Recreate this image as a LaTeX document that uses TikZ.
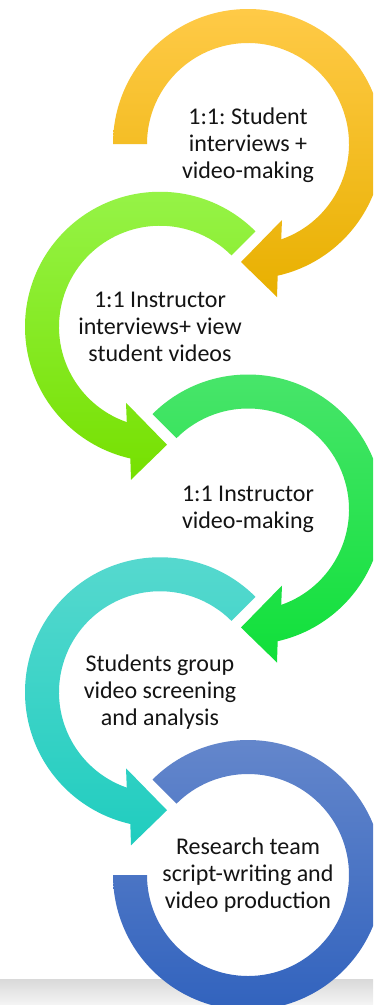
\documentclass[tikz,border=0pt]{standalone}
\usepackage{fontspec}
\setmainfont{Carlito}
\usetikzlibrary{calc}
\frenchspacing
\definecolor{yTop}{HTML}{FFCA47}\definecolor{yMid}{HTML}{FFC216}\definecolor{yBot}{HTML}{E8B000}
\definecolor{gTop}{HTML}{97F44A}\definecolor{gMid}{HTML}{88F224}\definecolor{gBot}{HTML}{76E000}
\definecolor{hTop}{HTML}{4AE56C}\definecolor{hMid}{HTML}{2EE458}\definecolor{hBot}{HTML}{10E03A}
\definecolor{tTop}{HTML}{58D9CF}\definecolor{tMid}{HTML}{38D3C8}\definecolor{tBot}{HTML}{20CDBF}
\definecolor{bTop}{HTML}{6688CC}\definecolor{bMid}{HTML}{4A74C6}\definecolor{bBot}{HTML}{2F61BD}
\definecolor{txt}{HTML}{141414}
\newcommand\cwhead[1]{%
  (#1:135) arc[start angle=#1, end angle=-77.3, radius=135]
  -- (29,-153) -- (-7,-118) -- (34,-76) -- (-70.8:101)
  arc[start angle=-70.8, end angle=#1, radius=101] -- cycle}
\newcommand\ccwhead{%
  (45:135) arc[start angle=45, end angle=257.3, radius=135]
  -- (-29,-153) -- (7,-118) -- (-34,-76) -- (250.8:101)
  arc[start angle=250.8, end angle=45, radius=101] -- cycle}
\begin{document}
\begin{tikzpicture}[x=1pt,y=1pt,
  lbl/.style={align=center, text=txt, font=\fontsize{24}{27}\selectfont\frenchspacing, inner sep=0pt},
  ring/.style n args={3}{top color=#1, middle color=#2, bottom color=#3, draw=none}]
\useasboundingbox (0,0) rectangle (373,-1005);
\clip (0,0) rectangle (373,-1005);
\fill[white] (0,0) rectangle (373,-1005);
\shade[top color=black!15, bottom color=black!4] (0,-979) rectangle (373,-1005);
\coordinate (c1) at (248,-144);
\coordinate (c2) at (160,-326.75);
\coordinate (c3) at (248,-509.5);
\coordinate (c4) at (160,-692.25);
\coordinate (c5) at (248,-875);
\begin{scope}[shift={(c1)}]
  \shade[ring={yTop}{yMid}{yBot}] \cwhead{180};
\end{scope}
\begin{scope}[shift={(c2)}]
  \shade[ring={gTop}{gMid}{gBot}] \ccwhead;
\end{scope}
\begin{scope}[shift={(c3)}]
  \shade[ring={hTop}{hMid}{hBot}] \cwhead{135};
\end{scope}
\begin{scope}[shift={(c4)}]
  \shade[ring={tTop}{tMid}{tBot}] \ccwhead;
\end{scope}
\begin{scope}[shift={(c5)}]
  \shade[ring={bTop}{bMid}{bBot}] (135:135) arc[start angle=135, end angle=-180, radius=135]
    -- (-180:101) arc[start angle=-180, end angle=135, radius=101] -- cycle;
\end{scope}
\node[lbl] (t1) at ($(c1)+(0,-1)$) {1:1: Student\\interviews +\\video-making};
\node[lbl] (t2) at (c2) {1:1 Instructor\\interviews+ view\\student videos};
\node[lbl] (t3) at (c3) {1:1 Instructor\\video-making};
\node[lbl] (t4) at (c4) {Students group\\video screening\\and analysis};
\node[lbl] (t5) at (c5) {Research team\\script-writing and\\video production};
\end{tikzpicture}
\end{document}
